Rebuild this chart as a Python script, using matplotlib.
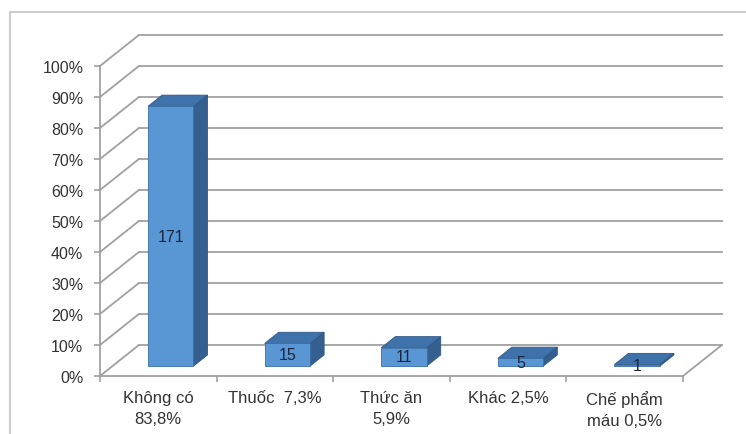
import numpy as np
import matplotlib.pyplot as plt
from matplotlib.patches import Polygon
from matplotlib.lines import Line2D

plt.rcParams['font.family'] = ['Liberation Sans', 'DejaVu Sans']

categories = ["Không có\n83,8%", "Thuốc  7,3%", "Thức ăn\n5,9%", "Khác 2,5%", "Chế phẩm\nmáu 0,5%"]
percents = [83.8, 7.3, 5.9, 2.5, 0.5]
counts = [171, 15, 11, 5, 1]
yticks = np.arange(0, 101, 10)

# fake 3d: offset of the back wall in data units
dx, dy = 0.334, 10.0
d0, d1 = 0.32, 0.68       # bar depth span (fraction of wall depth)
bw = 0.39                 # bar width in category units

front_c = '#5896d4'
top_c = '#3f72aa'
side_c = '#355f8f'
grid_c = '#a0a0a0'

fig = plt.figure(figsize=(7.46, 4.35), dpi=100)
ax = fig.add_axes([100 / 746, 58 / 435, 583 / 746, 310 / 435])
n = len(categories)
ax.set_xlim(0, n)
ax.set_ylim(0, 100)

# walls: back gridlines and left wall diagonals
for v in yticks:
    ax.plot([dx, n + dx], [v + dy, v + dy], color=grid_c, lw=1.3, clip_on=False, zorder=1)
    ax.plot([0, dx], [v, v + dy], color=grid_c, lw=1.3, clip_on=False, zorder=1)
ax.plot([n, n + dx], [0, dy], color=grid_c, lw=1.3, clip_on=False, zorder=1)

# bars
for i, (p, c) in enumerate(zip(percents, counts)):
    x0 = i + 0.5 - bw / 2 + d0 * dx
    x1 = x0 + bw
    y0 = d0 * dy
    y1 = y0 + p
    ox, oy = (d1 - d0) * dx, (d1 - d0) * dy
    front = Polygon([(x0, y0), (x1, y0), (x1, y1), (x0, y1)], closed=True,
                    facecolor=front_c, edgecolor='#3a6ea5', lw=0.6, zorder=3, clip_on=False)
    side = Polygon([(x1, y0), (x1 + ox, y0 + oy), (x1 + ox, y1 + oy), (x1, y1)], closed=True,
                   facecolor=side_c, edgecolor='#2f5785', lw=0.6, zorder=3, clip_on=False)
    top = Polygon([(x0, y1), (x1, y1), (x1 + ox, y1 + oy), (x0 + ox, y1 + oy)], closed=True,
                  facecolor=top_c, edgecolor='#2f5785', lw=0.6, zorder=3, clip_on=False)
    for patch in (side, top, front):
        ax.add_patch(patch)
    ax.text((x0 + x1) / 2, y0 + p / 2, str(c), ha='center', va='center',
            fontsize=11.5, color='#1c2640', zorder=4)

# axes lines and ticks
for s in ('top', 'right'):
    ax.spines[s].set_visible(False)
for s in ('left', 'bottom'):
    ax.spines[s].set_color(grid_c)
    ax.spines[s].set_linewidth(1.3)
    ax.spines[s].set_zorder(2)

ax.set_yticks(yticks)
ax.set_yticklabels([f"{v}%" for v in yticks], fontsize=11.5, color='#333333')
ax.tick_params(axis='y', length=4, width=1.2, color=grid_c, pad=8)

ax.set_xticks(np.arange(n) + 0.5)
ax.set_xticklabels(categories, fontsize=12, color='#333333', linespacing=1.5)
ax.tick_params(axis='x', which='major', length=0, pad=10)
ax.set_xticks(np.arange(n + 1), minor=True)
ax.tick_params(axis='x', which='minor', length=4, width=1.2, color=grid_c)

ax.patch.set_visible(False)

# chart area border
fig.add_artist(Line2D([10 / 746, 1], [1 - 13 / 435, 1 - 13 / 435], color='#cccccc', lw=1.5))
fig.add_artist(Line2D([10 / 746, 10 / 746], [0, 1 - 13 / 435], color='#cccccc', lw=1.5))

fig.savefig("out.png", dpi=100)
